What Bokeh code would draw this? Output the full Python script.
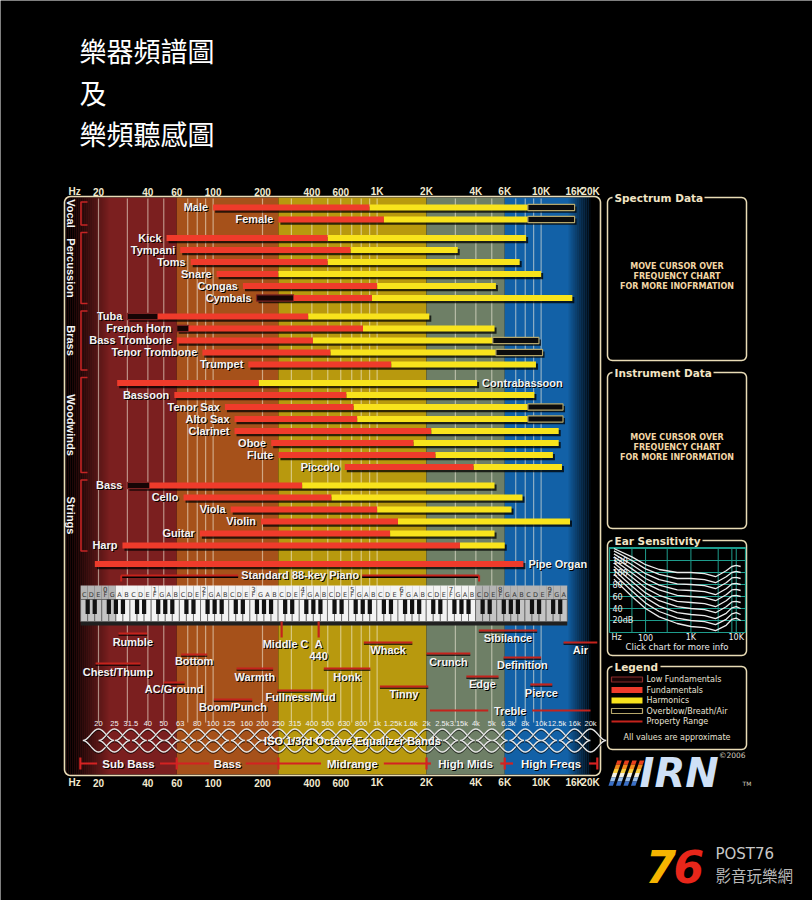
import math
import numpy as np
from bokeh.plotting import figure
from bokeh.models import Range1d, LogScale, LinearScale
from bokeh.core.properties import value
from bokeh.embed import file_html
from bokeh.resources import INLINE

# ------------------------------------------------------------------ data
TITLE_LINES = ["樂器頻譜圖", "及", "樂頻聽感圖"]

AXIS_FREQS = [20, 40, 60, 100, 200, 400, 600, 1000, 2000, 4000, 6000, 10000, 16000, 20000]
AXIS_LABELS = ["20", "40", "60", "100", "200", "400", "600", "1K", "2K", "4K", "6K", "10K", "16K", "20K"]
GRID_FREQS = [20, 30, 40, 50, 70, 80, 90, 100, 200, 300, 400, 500, 600, 700, 800, 900,
              1000, 3000, 4000, 5000, 7000, 8000, 9000, 10000]
REGION_EDGES = [60, 250, 2000, 6000, 20000]

GROUPS = ["Vocal", "Percussion", "Brass", "Woodwinds", "Strings", ""]
INSTRUMENTS = ["Male", "Female", "Kick", "Tympani", "Toms", "Snare", "Congas", "Cymbals",
               "Tuba", "French Horn", "Bass Trombone", "Tenor Trombone", "Trumpet",
               "Contrabassoon", "Bassoon", "Tenor Sax", "Alto Sax", "Clarinet", "Oboe", "Flute",
               "Piccolo", "Bass", "Cello", "Viola", "Violin", "Guitar", "Harp", "Pipe Organ"]
INSTR_GROUP = [0, 0, 1, 1, 1, 1, 1, 1, 2, 2, 2, 2, 2, 3, 3, 3, 3, 3, 3, 3, 3, 4, 4, 4, 4, 4, 4, 5]
LOWFUND_LO = [None, None, None, None, None, None, None, 184, 30, 60, None, None, None,
              None, None, None, None, None, None, None, None, 30, None, None, None, None, None, None]
LOWFUND_HI = [None, None, None, None, None, None, None, 310, 46, 71, None, None, None,
              None, None, None, None, None, None, None, None, 41, None, None, None, None, None, None]
FUND_LO = [100, 250, 52, 63, 73, 105, 152, 310, 46, 71, 60, 86, 164,
           26, 58, 118, 135, 135, 226, 250, 635, 41, 66, 128, 196, 83, 28, 19]
FUND_HI = [900, 1100, 500, 690, 500, 250, 1000, 930, 380, 820, 406, 520, 1220,
           190, 650, 720, 756, 2140, 1670, 2270, 3880, 349, 527, 1000, 1340, 1200, 3200, 7800]
HARM_HI = [8300, 8300, 8100, 3100, 7400, 10000, 5300, 15500, 2080, 5200, 5070, 5300, 9300,
           4070, 9100, 8300, 8300, 12800, 12800, 11800, 13400, 5200, 7700, 6600, 15000, 5200, 6000, None]
OVER_HI = [16000, 16000, None, None, None, None, None, None, None, None, 9700, 10200, None,
           None, None, 13600, 13600, None, None, None, None, None, None, None, None, None, None, None]
LABEL_AFTER_BAR = ["Contrabassoon", "Pipe Organ"]

PIANO_LABEL = "Standard 88-key Piano"
PIANO_LO, PIANO_HI = 27.5, 4186.0
KEY_C0 = 16.352
WHITE_NOTES = ["C", "D", "E", "F", "G", "A", "B"]
N_WHITE_KEYS = 69          # C0 .. A9
FIRST_88, LAST_88 = 5, 56  # A0 .. C8 (white key index)

MARKERS = ["Middle C", "A"]
MARKER_FREQ = [261.6, 440.0]

PROPS = ["Rumble", "Chest/Thump", "Bottom", "AC/Ground", "Boom/Punch", "Warmth", "Fullness/Mud",
         "Whack", "Honk", "Tinny", "Crunch", "Sibilance", "Definition", "Edge", "Pierce", "Air"]
PROP_LO = [26.5, 19.2, 63.8, 50, 101, 139, 246, 830, 473, 1040, 2000, 4170, 5900, 3500, 8600, 13700]
PROP_HI = [39.6, 36, 92, 67, 173, 232, 473, 1640, 910, 2050, 3700, 9460, 10000, 5500, 11700, 22000]
TREBLE = ("Treble", 2100, 20000)

EQ_BANDS = [20, 25, 31.5, 40, 50, 63, 80, 100, 125, 160, 200, 250, 315, 400, 500, 630, 800,
            1000, 1250, 1600, 2000, 2500, 3150, 4000, 5000, 6300, 8000, 10000, 12500, 16000, 20000]
EQ_LABELS = ["20", "25", "31.5", "40", "50", "63", "80", "100", "125", "160", "200", "250", "315",
             "400", "500", "630", "800", "1k", "1.25k", "1.6k", "2k", "2.5k", "3.15k", "4k", "5k",
             "6.3k", "8k", "10k", "12.5k", "16k", "20k"]
EQ_TITLE = "ISO 1/3rd Octave Equalizer Bands"

SECTIONS = ["Sub Bass", "Bass", "Midrange", "High Mids", "High Freqs"]
SECTION_EDGES = [15.5, 60, 250, 2000, 6000, 22000]

EAR_FREQS = [20, 50, 100, 200, 500, 1000, 2000, 3500, 6000, 8000, 10000, 12500]
EAR_PHON_SPL = [
    [89, 60, 40, 26, 15, 10, 8, 3, 12, 22, 24, 20],
    [97, 69, 49, 35, 24, 20, 18, 13, 22, 31, 33, 30],
    [104, 77, 58, 44, 33, 30, 28, 23, 32, 41, 43, 40],
    [110, 85, 66, 53, 43, 40, 38, 33, 43, 51, 52, 50],
    [116, 92, 74, 62, 52, 50, 48, 43, 53, 61, 62, 60],
    [121, 99, 82, 71, 62, 60, 58, 53, 63, 71, 72, 70],
    [126, 106, 90, 79, 71, 70, 68, 63, 73, 81, 82, 80],
    [131, 113, 98, 88, 81, 80, 78, 73, 83, 91, 92, 90],
    [136, 120, 106, 97, 90, 90, 88, 83, 93, 100, 102, 100],
    [140, 126, 113, 105, 100, 100, 98, 93, 103, 110, 112, 110],
]
EAR_DB_TICKS = [120, 100, 80, 60, 40, 20]
EAR_DB_LABELS = ["120", "100", "80", "60", "40", "20dB"]
EAR_X_TICKS = [100, 1000, 10000]
EAR_X_LABELS = ["100", "1K", "10K"]

LEGEND_LABELS = ["Low Fundamentals", "Fundamentals", "Harmonics", "Overblow/Breath/Air", "Property Range"]
PANEL_MSG = ["MOVE CURSOR OVER", "FREQUENCY CHART"]

# ------------------------------------------------------------------ geometry / styles
W, H = 812, 900
PX20, PPD = 98.0, 164.0
def f_of_px(px):
    return 20.0 * 10 ** ((px - PX20) / PPD)

EAR_PX16, EAR_PPD = 609.0, 45.33
def ef_of_px(px):
    return 16.0 * 10 ** ((px - EAR_PX16) / EAR_PPD)
DB0_PX, PX_PER_DB = 632.0, 0.6

NARROW = "Liberation Sans"
SANS = "DejaVu Sans"
CREAM = "#e9dcb6"
RED = "#ef3b2b"
YELLOW = "#f8e31c"
PROP_RED = "#c4231c"
REGION_COLORS = ["#7b1f1f", "#a6511a", "#b8990e", "#6e7f66", "#1261a7"]

FRAME_L, FRAME_R, FRAME_T, FRAME_B = 64, 600, 196, 775

p = figure(width=W, height=H, x_range=Range1d(0, W), y_range=Range1d(H, 0),
           x_axis_location=None, y_axis_location=None, output_backend="svg",
           toolbar_location=None, min_border=0, background_fill_color="black",
           border_fill_color="black", outline_line_color=None)
p.grid.visible = False
p.extra_x_ranges = {"f": Range1d(f_of_px(0), f_of_px(W)), "ef": Range1d(ef_of_px(0), ef_of_px(W))}
p.extra_x_scales = {"f": LogScale(), "ef": LogScale()}
p.extra_y_ranges = {"db": Range1d((DB0_PX - H) / PX_PER_DB, DB0_PX / PX_PER_DB)}
p.extra_y_scales = {"db": LinearScale()}


def txt(x, y, s, size, color="white", align="left", baseline="middle", font=NARROW,
        style="bold", shadow=True, xr="default", yr="default", angle=0.0, alpha=1.0):
    xs = x if isinstance(x, list) else [x]
    ys = y if isinstance(y, list) else [y]
    ss = s if isinstance(s, list) else [s]
    kw = dict(text_font=value(font), text_font_size=f"{size}px", text_align=align,
              text_baseline=baseline, text_font_style=style, angle=angle,
              x_range_name=xr, y_range_name=yr)
    if shadow:
        p.text(x=xs, y=ys, text=ss, text_color="black", x_offset=1, y_offset=1, **kw)
    p.text(x=xs, y=ys, text=ss, text_color=color, text_alpha=alpha, **kw)


def rbox(x0, y0, x1, y1, r, gap=None, color=CREAM, width=1.5):
    pts = []
    def arc(cx, cy, a0, a1):
        for t in np.linspace(a0, a1, 7):
            pts.append((cx + r * math.cos(t), cy + r * math.sin(t)))
    pts.append((gap[1] if gap else x0 + r, y0))
    arc(x1 - r, y0 + r, -math.pi / 2, 0)
    arc(x1 - r, y1 - r, 0, math.pi / 2)
    arc(x0 + r, y1 - r, math.pi / 2, math.pi)
    arc(x0 + r, y0 + r, math.pi, 1.5 * math.pi)
    pts.append((gap[0] if gap else x0 + r, y0))
    p.line([a for a, b in pts], [b for a, b in pts], line_color=color, line_width=width)


def gapped(lo, hi, mid, half_px):
    k = 10 ** (half_px / PPD)
    return [(lo, mid / k), (mid * k, hi)]


def logmid(a, b):
    return math.sqrt(a * b)

# ------------------------------------------------------------------ title
for i, line in enumerate(TITLE_LINES):
    txt(79, 50 + 41.5 * i, line, 27, font="Noto Sans CJK TC", style="normal", shadow=False)

# ------------------------------------------------------------------ background regions
f_left, f_right = f_of_px(FRAME_L + 1), f_of_px(FRAME_R - 1)
edges = [f_left] + REGION_EDGES
for i in range(5):
    p.quad(left=edges[i], right=edges[i + 1], top=FRAME_T + 1, bottom=FRAME_B - 1,
           fill_color=REGION_COLORS[i], line_color=None, x_range_name="f")
p.quad(left=REGION_EDGES[-1], right=f_right, top=FRAME_T + 1, bottom=FRAME_B - 1,
       fill_color="black", line_color=None, x_range_name="f")
# left fade (black -> dark red) and right fade (blue -> black)
for i in range(24):
    x0 = FRAME_L + 2 * i
    a = max(0.0, min(1.0, 1 - (x0 - 70) / 38.0))
    p.quad(left=x0, right=x0 + 2, top=FRAME_T + 1, bottom=FRAME_B - 1,
           fill_color="black", fill_alpha=a, line_color=None)
for i in range(12):
    x0 = 568 + 2 * i
    a = (i + 1) / 12.0
    p.quad(left=x0, right=x0 + 2, top=FRAME_T + 1, bottom=FRAME_B - 1,
           fill_color="black", fill_alpha=a, line_color=None)

# grid lines
p.segment(x0=GRID_FREQS, x1=GRID_FREQS, y0=[FRAME_T + 2] * len(GRID_FREQS),
          y1=[722] * len(GRID_FREQS), line_color="#f4eedc", line_alpha=0.55,
          line_width=1.2, x_range_name="f")

# frame
rbox(FRAME_L, FRAME_T, FRAME_R, FRAME_B, 6, color=CREAM, width=1.6)

# axis labels top & bottom
for yy in (191, 782):
    txt(68, yy, "Hz", 10, color="#f2ead0", align="left", shadow=False)
    txt(AXIS_FREQS, [yy] * len(AXIS_FREQS), AXIS_LABELS, 10, color="#f2ead0",
        align="center", xr="f", shadow=False)

# ------------------------------------------------------------------ instrument bars
row_y = [207 + 12 * i + 6.5 * g for i, g in enumerate(INSTR_GROUP)]
BH = 3.1
SH = 10 ** (2 / PPD)
sh_l, sh_r, sh_t, sh_b = [], [], [], []
for i in range(len(INSTRUMENTS)):
    lo = LOWFUND_LO[i] if LOWFUND_LO[i] else FUND_LO[i]
    hi = OVER_HI[i] or HARM_HI[i] or FUND_HI[i]
    sh_l.append(lo * SH); sh_r.append(hi * SH)
    sh_t.append(row_y[i] - BH + 2.2); sh_b.append(row_y[i] + BH + 2.2)
p.quad(left=sh_l, right=sh_r, top=sh_t, bottom=sh_b, fill_color="black", fill_alpha=0.75,
       line_color=None, x_range_name="f")

def bars(lo_list, hi_list, fill, line=None, lw=1.0):
    L, R, T, B = [], [], [], []
    for i in range(len(INSTRUMENTS)):
        if lo_list[i] is None or hi_list[i] is None:
            continue
        L.append(lo_list[i]); R.append(hi_list[i])
        T.append(row_y[i] - BH); B.append(row_y[i] + BH)
    p.quad(left=L, right=R, top=T, bottom=B, fill_color=fill, line_color=line,
           line_width=lw, x_range_name="f")

bars(LOWFUND_LO, LOWFUND_HI, "#160505", "#7a2222", 1.2)
bars(FUND_LO, FUND_HI, RED)
bars(FUND_HI, HARM_HI, YELLOW)
bars(HARM_HI, OVER_HI, "#0c0c0c", "#b5a66a", 1.2)

for i, name in enumerate(INSTRUMENTS):
    if name in LABEL_AFTER_BAR:
        xe = OVER_HI[i] or HARM_HI[i] or FUND_HI[i]
        txt(xe * 10 ** (5 / PPD), row_y[i] - 0.5, name, 11, color="#f4f4f4", align="left", xr="f")
    else:
        xs = LOWFUND_LO[i] if LOWFUND_LO[i] else FUND_LO[i]
        txt(xs / 10 ** (5 / PPD), row_y[i] - 0.5, name, 11, color="#f4f4f4", align="right", xr="f")

# group labels and brackets
for g, gname in enumerate(GROUPS):
    if not gname:
        continue
    ys = [row_y[i] for i in range(len(INSTRUMENTS)) if INSTR_GROUP[i] == g]
    top, bot = ys[0] - 5.5, ys[-1] + 5.5
    p.line([87, 80.5, 80.5, 87], [top, top, bot, bot], line_color="#c42424", line_width=1.6)
    txt(70.5, (top + bot) / 2, gname, 11, color="#f4f4f4", align="center",
        angle=-math.pi / 2, shadow=False)

# ------------------------------------------------------------------ piano range line
py = 575
pm = logmid(PIANO_LO, PIANO_HI)
for a, b in gapped(PIANO_LO, PIANO_HI, pm, 62):
    p.segment(x0=[a], x1=[b], y0=[py + 1.5], y1=[py + 1.5], line_color="black",
              line_width=2, x_range_name="f")
    p.segment(x0=[a], x1=[b], y0=[py], y1=[py], line_color=PROP_RED, line_width=2,
              x_range_name="f")
p.segment(x0=[PIANO_LO, PIANO_HI], x1=[PIANO_LO, PIANO_HI], y0=[py, py], y1=[py + 6, py + 6],
          line_color=PROP_RED, line_width=2, x_range_name="f")
txt(pm, py - 1, PIANO_LABEL, 11, color="#f4f4f4", align="center", xr="f")

# ------------------------------------------------------------------ keyboard
kw_l, kw_r, kw_c, st_c = [], [], [], []
for k in range(N_WHITE_KEYS):
    kw_l.append(KEY_C0 * 2 ** ((k - 0.5) / 7))
    kw_r.append(KEY_C0 * 2 ** ((k + 0.5) / 7))
    inside = FIRST_88 <= k < LAST_88
    kw_c.append("#f3f3f3" if inside else "#c4c4c4")
    st_c.append("#f3f3f3" if inside else "#b4b4b4")
p.quad(left=[kw_l[0]], right=[kw_r[-1]], top=[586], bottom=[625], fill_color="#202020",
       line_color=None, x_range_name="f")
p.quad(left=kw_l, right=kw_r, top=[585] * N_WHITE_KEYS, bottom=[599] * N_WHITE_KEYS,
       fill_color=st_c, line_color=None, x_range_name="f")
p.quad(left=kw_l, right=kw_r, top=[599] * N_WHITE_KEYS, bottom=[621] * N_WHITE_KEYS,
       fill_color=kw_c, line_color="#5a5a5a", line_width=0.7, x_range_name="f")
bk_l, bk_r = [], []
for k in range(N_WHITE_KEYS - 1):
    if WHITE_NOTES[k % 7] in ("C", "D", "F", "G", "A"):
        bk_l.append(KEY_C0 * 2 ** ((k + 0.5 - 0.3) / 7))
        bk_r.append(KEY_C0 * 2 ** ((k + 0.5 + 0.3) / 7))
p.quad(left=bk_l, right=bk_r, top=[599] * len(bk_l), bottom=[613.5] * len(bk_l),
       fill_color="#111111", line_color=None, x_range_name="f")
key_c = [KEY_C0 * 2 ** (k / 7) for k in range(N_WHITE_KEYS)]
txt(key_c, [594.5] * N_WHITE_KEYS, [WHITE_NOTES[k % 7] for k in range(N_WHITE_KEYS)], 6.5,
    color="#333333", align="center", font=SANS, style="normal", shadow=False, xr="f")
oct_c = [KEY_C0 * 2 ** (o + 3 / 7) for o in range(10)]
txt(oct_c, [588.5] * 10, [str(o) for o in range(10)], 7, color="#333333", align="center",
    font=SANS, style="normal", shadow=False, xr="f")

# markers: middle C, A 440
p.segment(x0=MARKER_FREQ, x1=MARKER_FREQ, y0=[621, 621], y1=[637, 637], line_color=PROP_RED,
          line_width=2.2, x_range_name="f")
txt(MARKER_FREQ[0] * 10 ** (4 / PPD), 643, MARKERS[0], 11, color="#f4f4f4", align="center", xr="f")
txt(MARKER_FREQ[1], 643, MARKERS[1], 11, color="#f4f4f4", align="center", xr="f")
txt(MARKER_FREQ[1], 655, str(int(MARKER_FREQ[1])), 11, color="#f4f4f4", align="center", xr="f")

# ------------------------------------------------------------------ property ranges
PROP_LINE_Y = [633, 663, 654, 682, 699, 668, 690, 642, 668, 686, 653, 630, 657, 676, 684, 642]
PROP_LABEL_DY = [8, 8, 6.5, 6.5, 7.5, 8.5, 6.5, 7.5, 8.5, 7, 8, 7, 7.5, 7, 8, 7.5]
p.segment(x0=PROP_LO, x1=PROP_HI, y0=[y + 1.6 for y in PROP_LINE_Y],
          y1=[y + 1.6 for y in PROP_LINE_Y], line_color="black", line_alpha=0.7,
          line_width=1.6, x_range_name="f")
p.segment(x0=PROP_LO, x1=PROP_HI, y0=PROP_LINE_Y, y1=PROP_LINE_Y, line_color=PROP_RED,
          line_width=2.2, x_range_name="f")
txt([logmid(a, b) for a, b in zip(PROP_LO, PROP_HI)],
    [y + d for y, d in zip(PROP_LINE_Y, PROP_LABEL_DY)], PROPS, 11, color="#f4f4f4",
    align="center", xr="f")
tm = logmid(TREBLE[1], TREBLE[2])
for a, b in gapped(TREBLE[1], TREBLE[2], tm, 22):
    p.segment(x0=[a], x1=[b], y0=[710], y1=[710], line_color=PROP_RED, line_width=2.2,
              x_range_name="f")
txt(tm, 710, TREBLE[0], 11, color="#f4f4f4", align="center", xr="f")

# ------------------------------------------------------------------ EQ bands
txt(EQ_BANDS, [723] * len(EQ_BANDS), EQ_LABELS, 7.5, color="#f2f2f2", align="center",
    style="normal", shadow=False, xr="f")
d = math.log10(2) / 3
cy, amp = 740, 11.5
for fc in EQ_BANDS:
    u0 = math.log10(fc)
    u = np.linspace(u0 - 0.95 * d, u0 + 0.95 * d, 31)
    env = (1 + np.cos(np.pi * (u - u0) / (0.95 * d))) / 2
    fx = list(10 ** u)
    for sgn in (-1, 1):
        yy = list(cy + sgn * amp * env)
        p.line(fx, [v + 1.2 for v in yy], line_color="black", line_alpha=0.6, line_width=1.4,
               x_range_name="f")
        p.line(fx, yy, line_color="#e6e6e6", line_width=1.4, x_range_name="f")
txt(logmid(250, 2000), 740, EQ_TITLE, 11, color="#f8f8f8", align="center", xr="f")

# ------------------------------------------------------------------ sections
sy = 763
for i, name in enumerate(SECTIONS):
    a, b = SECTION_EDGES[i], SECTION_EDGES[i + 1]
    m = logmid(a, b)
    for s0, s1 in gapped(a, b, m, len(name) * 3.3 + 5):
        p.segment(x0=[s0], x1=[s1], y0=[sy], y1=[sy], line_color="#d42222", line_width=2.2,
                  x_range_name="f")
    txt(m, sy, name, 11.5, color="#f6f6f6", align="center", xr="f")
p.segment(x0=SECTION_EDGES, x1=SECTION_EDGES, y0=[sy - 6] * len(SECTION_EDGES),
          y1=[sy + 6] * len(SECTION_EDGES), line_color="#d42222", line_width=2.2, x_range_name="f")

# ------------------------------------------------------------------ side panels
PX0, PX1 = 607, 746
rbox(PX0, 197, PX1, 360, 5, gap=(611, 704))
txt(614, 197, "Spectrum Data", 10.5, color="#f2e4c4", font=SANS, shadow=False)
rbox(PX0, 372, PX1, 528, 5, gap=(611, 713))
txt(614, 372, "Instrument Data", 10.5, color="#f2e4c4", font=SANS, shadow=False)
msg1 = PANEL_MSG + ["FOR MORE INOFRMATION"]
msg2 = PANEL_MSG + ["FOR MORE INFORMATION"]
txt([676.5] * 3, [266, 276, 286], msg1, 8, color="#f2d6a6", align="center", font=SANS, shadow=False)
txt([676.5] * 3, [437, 447, 457], msg2, 8, color="#f2d6a6", align="center", font=SANS, shadow=False)

# ear sensitivity
rbox(PX0, 540, PX1, 655, 5, gap=(611, 702))
txt(614, 540, "Ear Sensitivity", 10.5, color="#f2e4c4", font=SANS, shadow=False)
p.quad(left=[609], right=[745], top=[547], bottom=[632], fill_color="black",
       line_color="#1e9c8c", line_width=1.2)
db_grid = [20, 40, 60, 80, 100, 120, 140]
p.segment(x0=[ef_of_px(609)] * len(db_grid), x1=[ef_of_px(745)] * len(db_grid), y0=db_grid,
          y1=db_grid, line_color="#1e9c8c", line_width=1, x_range_name="ef", y_range_name="db")
ef_grid = [50, 100, 300, 1000, 4000, 8000, 10000]
p.segment(x0=ef_grid, x1=ef_grid, y0=[0] * len(ef_grid), y1=[141] * len(ef_grid),
          line_color="#1e9c8c", line_width=1, x_range_name="ef", y_range_name="db")
for row in EAR_PHON_SPL:
    p.line(EAR_FREQS, row, line_color="#ececec", line_width=1.3, x_range_name="ef",
           y_range_name="db")
txt([612] * len(EAR_DB_TICKS), [DB0_PX - PX_PER_DB * v for v in EAR_DB_TICKS], EAR_DB_LABELS,
    8, color="#f0f0f0", font=SANS, style="normal", shadow=False)
txt(611, 637, "Hz", 8, color="#f0f0f0", font=SANS, style="normal", shadow=False)
txt(EAR_X_TICKS, [637] * 3, EAR_X_LABELS, 8, color="#f0f0f0", align="center", font=SANS,
    style="normal", shadow=False, xr="ef")
txt(676.5, 646.5, "Click chart for more info", 8.5, color="#e8e8e8", align="center", font=SANS,
    style="normal", shadow=False)

# legend
rbox(PX0, 666, PX1, 749, 5, gap=(611, 660))
txt(614, 666, "Legend", 10.5, color="#f2e4c4", font=SANS, shadow=False)
ly = [679, 689.5, 700, 710.5, 721]
p.quad(left=[611], right=[642], top=[ly[0] - 2.5], bottom=[ly[0] + 2.5], fill_color="#1a0505",
       line_color="#8a2a2a", line_width=1.2)
p.quad(left=[611], right=[642], top=[ly[1] - 3], bottom=[ly[1] + 3], fill_color=RED,
       line_color=None)
p.quad(left=[611], right=[642], top=[ly[2] - 3], bottom=[ly[2] + 3], fill_color=YELLOW,
       line_color=None)
p.quad(left=[611], right=[642], top=[ly[3] - 2.5], bottom=[ly[3] + 2.5], fill_color="black",
       line_color="#b5a66a", line_width=1.2)
p.segment(x0=[611], x1=[642], y0=[ly[4]], y1=[ly[4]], line_color=PROP_RED, line_width=2)
txt([646] * 5, ly, LEGEND_LABELS, 8, color="#e8e2d4", font=SANS, style="normal", shadow=False)
txt(676.5, 737, "All values are approximate", 8, color="#e8e2d4", align="center", font=SANS,
    style="normal", shadow=False)

# IRN logo
txt(745, 755, "©2006", 7.5, color="#d8d0c0", align="right", font=SANS, style="normal", shadow=False)
stripe_cols = ["#e8401c", "#f08a1c", "#f6cc40", "#f4f0e0", "#9cc0ec", "#3a70c8"]
for b in range(4):
    bx = 608 + b * 7.5
    for s, col in enumerate(stripe_cols):
        t0, t1 = 760 + s * 4.2, 760 + (s + 1) * 4.2
        sl0, sl1 = (785 - t0) * 0.35, (785 - t1) * 0.35
        p.patch([bx + sl0, bx + sl0 + 4.5, bx + sl1 + 4.5, bx + sl1], [t0, t0, t1, t1],
                fill_color=col, line_color=None)
txt(639, 772, "IRN", 40, color="#cfe0f6", font="DejaVu Sans", style="bold italic",
    baseline="middle", shadow=False)
txt(742, 783, "TM", 6, color="#d8d0c0", font=SANS, style="normal", shadow=False)

# watermark
txt(645, 866, "7", 44, color="#f5b400", font="DejaVu Sans", style="bold italic", shadow=False)
txt(673, 866, "6", 44, color="#e8261a", font="DejaVu Sans", style="bold italic", shadow=False)
txt(715, 853, "POST76", 15, color="#c8c8c8", font="DejaVu Sans", style="normal", shadow=False)
txt(715, 874, "影音玩樂網", 15.5, color="#b8b8b8", font="Noto Sans CJK TC", style="normal",
    shadow=False)

open("out.html", "w").write(file_html(p, INLINE))
